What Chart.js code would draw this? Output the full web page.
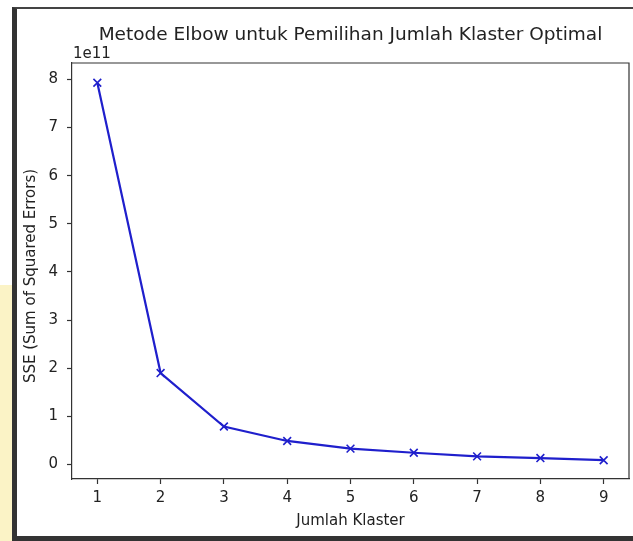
<!DOCTYPE html>
<html lang="id">
<head>
    <meta charset="UTF-8">
    <title>Metode Elbow untuk Pemilihan Jumlah Klaster Optimal</title>
    <script src="https://cdn.jsdelivr.net/npm/chart.js"></script>
    <style>
        body {
            margin: 0;
            background: #fff;
        }
        .wrap {
            position: relative;
            width: 633px;
            height: 541px;
            overflow: hidden;
        }
        .frame {
            position: absolute;
            left: 12px;
            top: 7px;
            width: 640px;
            height: 527px;
            border-left: 5px solid #333;
            border-top: 2px solid #444;
            border-bottom: 5px solid #333;
            background: #fff;
        }
        .stripe {
            position: absolute;
            left: 0;
            top: 285px;
            width: 12px;
            height: 256px;
            background: #fbf3c6;
        }
        canvas {
            position: absolute;
            left: 0;
            top: 0;
        }
    </style>
</head>
<body>
    <div class="wrap">
        <div class="stripe"></div>
        <div class="frame"></div>
        <canvas id="elbowChart" width="633" height="541"></canvas>
    </div>

    <script>
        // data
        const klaster = [1, 2, 3, 4, 5, 6, 7, 8, 9];
        const sse = [7.93e11, 1.90e11, 0.79e11, 0.49e11, 0.33e11, 0.245e11, 0.17e11, 0.135e11, 0.09e11];
        const xTicks = [1, 2, 3, 4, 5, 6, 7, 8, 9];
        const yTicks = [0, 1, 2, 3, 4, 5, 6, 7, 8];
        const yScaleFactor = 1e11;

        const chartTitle = 'Metode Elbow untuk Pemilihan Jumlah Klaster Optimal';
        const xTitle = 'Jumlah Klaster';
        const yTitle = 'SSE (Sum of Squared Errors)';
        const offsetText = '1e11';

        const fontFamily = '"DejaVu Sans", sans-serif';
        const textColor = '#222';
        const lineColor = '#1f1fcc';

        // title, offset text, axis titles and the top/right spines
        const decorPlugin = {
            id: 'decor',
            afterDraw(chart) {
                const { ctx, chartArea: a } = chart;
                ctx.save();
                ctx.strokeStyle = '#333';
                ctx.lineWidth = 1.2;
                ctx.beginPath();
                ctx.moveTo(a.left, a.top);
                ctx.lineTo(a.right, a.top);
                ctx.lineTo(a.right, a.bottom);
                ctx.stroke();

                ctx.fillStyle = textColor;
                ctx.textBaseline = 'alphabetic';

                ctx.font = '18.5px ' + fontFamily;
                ctx.textAlign = 'center';
                ctx.fillText(chartTitle, (a.left + a.right) / 2, 40);

                ctx.font = '15px ' + fontFamily;
                ctx.textAlign = 'left';
                ctx.fillText(offsetText, a.left + 1, 58);

                ctx.textAlign = 'center';
                ctx.fillText(xTitle, (a.left + a.right) / 2, 525);

                ctx.translate(35, 276);
                ctx.rotate(-Math.PI / 2);
                ctx.fillText(yTitle, 0, 0);
                ctx.restore();
            }
        };

        const ctx = document.getElementById('elbowChart').getContext('2d');
        new Chart(ctx, {
            type: 'line',
            data: {
                datasets: [{
                    data: klaster.map((k, i) => ({ x: k, y: sse[i] })),
                    borderColor: lineColor,
                    borderWidth: 2.2,
                    tension: 0,
                    fill: false,
                    pointStyle: 'crossRot',
                    pointRadius: 5.5,
                    pointBorderWidth: 1.6,
                    pointBorderColor: lineColor,
                    pointBackgroundColor: 'transparent'
                }]
            },
            options: {
                responsive: false,
                animation: false,
                layout: {
                    autoPadding: false,
                    padding: { top: 63, right: 4, left: 0, bottom: 0 }
                },
                plugins: {
                    legend: { display: false },
                    tooltip: { enabled: false }
                },
                scales: {
                    x: {
                        type: 'linear',
                        min: 0.6,
                        max: 9.4,
                        afterBuildTicks: function (scale) {
                            scale.ticks = xTicks.map(v => ({ value: v }));
                        },
                        afterFit: function (scale) {
                            scale.height = 62;
                        },
                        grid: {
                            drawOnChartArea: false,
                            drawTicks: true,
                            tickLength: 5,
                            tickWidth: 1.2,
                            tickColor: '#333'
                        },
                        border: { display: true, color: '#333', width: 1.2 },
                        ticks: {
                            font: { family: fontFamily, size: 15 },
                            color: textColor,
                            padding: 5,
                            maxRotation: 0,
                            autoSkip: false
                        }
                    },
                    y: {
                        type: 'linear',
                        min: -0.30e11,
                        max: 8.34e11,
                        afterBuildTicks: function (scale) {
                            scale.ticks = yTicks.map(v => ({ value: v * yScaleFactor }));
                        },
                        afterFit: function (scale) {
                            scale.width = 72;
                        },
                        grid: {
                            drawOnChartArea: false,
                            drawTicks: true,
                            tickLength: 5,
                            tickWidth: 1.2,
                            tickColor: '#333'
                        },
                        border: { display: true, color: '#333', width: 1.2 },
                        ticks: {
                            font: { family: fontFamily, size: 15 },
                            color: textColor,
                            padding: 9,
                            autoSkip: false,
                            callback: function (value) {
                                return String(Math.round(value / yScaleFactor));
                            }
                        }
                    }
                }
            },
            plugins: [decorPlugin]
        });
    </script>
</body>
</html>
